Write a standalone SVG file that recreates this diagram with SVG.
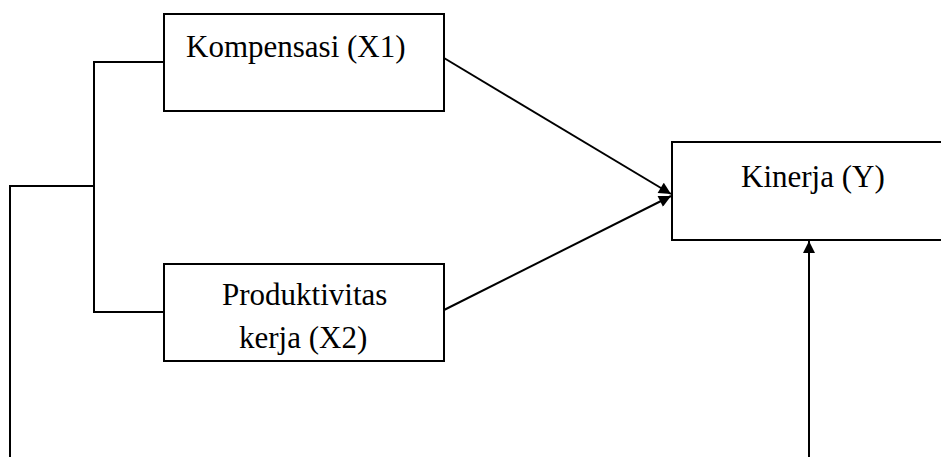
<svg xmlns="http://www.w3.org/2000/svg" width="941" height="457" viewBox="0 0 941 457">
<style>
.box{fill:#fff;stroke:#000;stroke-width:2}
.ln{fill:none;stroke:#000;stroke-width:2}
.t{font-family:"Liberation Serif","Times New Roman",serif;font-size:31px;fill:#000}
</style>
<defs>
<marker id="ah" viewBox="0 0 10 10" refX="10" refY="5" markerWidth="7" markerHeight="6" orient="auto" markerUnits="strokeWidth">
<path d="M0,0 L10,5 L0,10 z" fill="#000"/>
</marker>
</defs>
<rect width="941" height="457" fill="#fff"/>
<g id="connectors">
<polyline class="ln" points="164,62 94,62 94,312 164,312"/>
<polyline class="ln" points="10,457 10,186 94,186"/>
<line class="ln" x1="444" y1="58" x2="671" y2="194" marker-end="url(#ah)"/>
<line class="ln" x1="444" y1="310" x2="671" y2="196" marker-end="url(#ah)"/>
<line class="ln" x1="809" y1="457" x2="809" y2="241" marker-end="url(#ah)"/>
</g>
<g id="kompensasi">
<rect class="box" x="164" y="14" width="280" height="97"/>
<text class="t" x="186" y="57">Kompensasi (X1)</text>
</g>
<g id="produktivitas">
<rect class="box" x="164" y="264" width="280" height="97"/>
<text class="t" x="222" y="305">Produktivitas</text>
<text class="t" x="239" y="348">kerja (X2)</text>
</g>
<g id="kinerja">
<rect class="box" x="672" y="142" width="280" height="98"/>
<text class="t" x="741" y="187">Kinerja (Y)</text>
</g>
</svg>
